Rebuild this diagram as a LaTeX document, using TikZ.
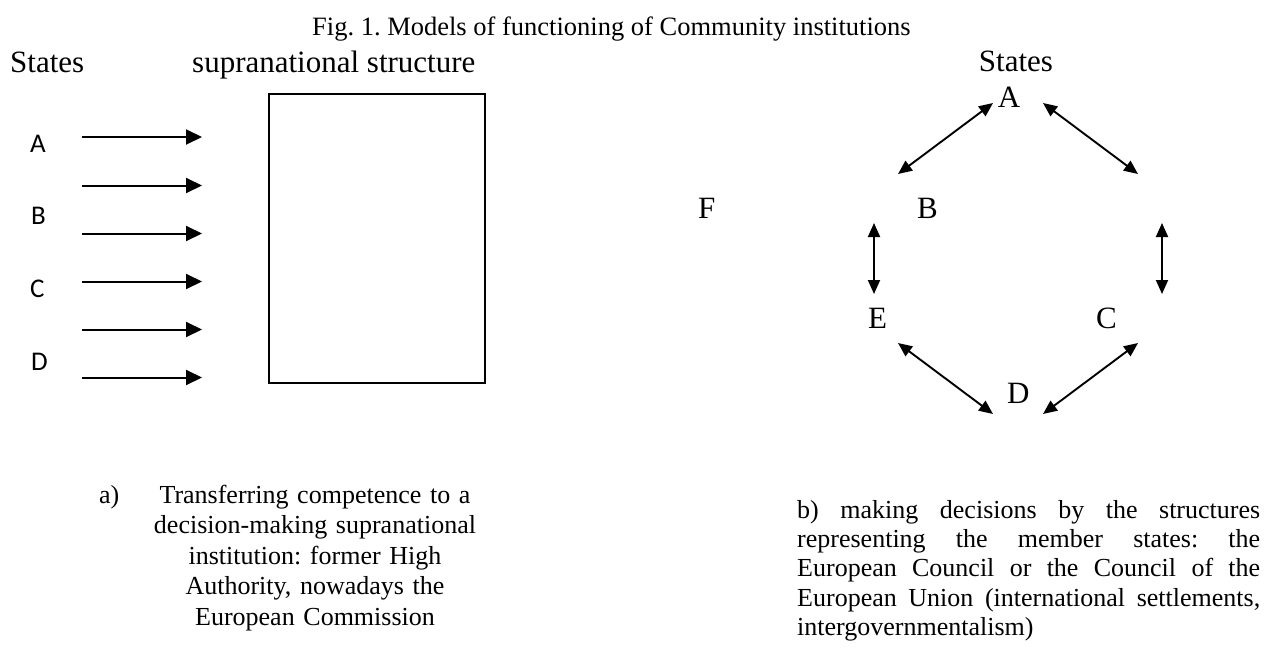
\documentclass[tikz,border=0pt]{standalone}
\usepackage{fontspec}
\setmainfont{Liberation Serif}
\newfontfamily\calfont{Carlito}
\usetikzlibrary{arrows.meta}
\frenchspacing
\begin{document}
\begin{tikzpicture}[x=1pt,y=-1pt,
  big/.style={font=\fontsize{31}{36}\selectfont, inner sep=0, anchor=base west},
  bigc/.style={font=\fontsize{31}{36}\selectfont, inner sep=0, anchor=base},
  capt/.style={font=\fontsize{26.5}{30}\selectfont, inner sep=0, anchor=base west},
  body/.style={font=\fontsize{26}{29.2}\selectfont, inner sep=0},
  sansletter/.style={font=\calfont\fontsize{27}{32}\selectfont, inner sep=0, anchor=base west},
  inarrow/.style={line width=2pt, -{Triangle[length=16pt,width=15pt]}},
  twoway/.style={line width=1.9pt, {Triangle[length=14pt,width=12pt]}-{Triangle[length=14pt,width=12pt]}},
  frame/.style={draw, line width=1.6pt, inner sep=0, anchor=north west}
]
\useasboundingbox (0,0) rectangle (1266,648);

% caption
\node[capt] (title) at (312,35) {Fig. 1. Models of functioning of Community institutions};

% ---------- left model ----------
\node[big] (statesL) at (10,72) {States};
\node[big] (supra) at (192,72) {supranational structure};
\node[frame, minimum width=216pt, minimum height=289pt] (box) at (268,93) {};

\node[sansletter] (lA) at (30,152) {A};
\node[sansletter] (lB) at (31,224) {B};
\node[sansletter] (lC) at (30,297) {C};
\node[sansletter] (lD) at (31,370) {D};

\foreach \i/\yy in {1/137,2/185.5,3/233.5,4/281.5,5/329.5,6/377.5}{
  \coordinate (s\i) at (82,\yy);
  \coordinate (t\i) at (202,\yy);
  \draw[inarrow] (s\i) -- (t\i);
}

\node[body, anchor=base west] (la) at (99,503) {a)};
\node[body, font=\fontsize{26}{30.5}\selectfont, text width=340pt, align=center, anchor=base] (capL) at (315,503)
  {Transferring competence to a\\ decision-making supranational\\ institution: former High\\ Authority, nowadays the\\ European Commission};

% ---------- right model ----------
\node[bigc] (statesR) at (1016,71) {States};
\node[bigc] (rA) at (1009,107) {A};
\node[big] (rF) at (698,218) {F};
\node[big] (rB) at (917,218) {B};
\node[big] (rE) at (868,328) {E};
\node[big] (rC) at (1096,328) {C};
\node[big] (rD) at (1007,403) {D};

\coordinate (ab1) at (898,174);  \coordinate (ab2) at (993,103);
\coordinate (ac1) at (1043,103); \coordinate (ac2) at (1138,174);
\coordinate (be1) at (874,223);  \coordinate (be2) at (874,294);
\coordinate (rc1) at (1162,223); \coordinate (rc2) at (1162,294);
\coordinate (ed1) at (898,343);  \coordinate (ed2) at (993,414);
\coordinate (dc1) at (1043,414); \coordinate (dc2) at (1138,343);

\draw[twoway] (ab1) -- (ab2);
\draw[twoway] (ac1) -- (ac2);
\draw[twoway] (be1) -- (be2);
\draw[twoway] (rc1) -- (rc2);
\draw[twoway] (ed1) -- (ed2);
\draw[twoway] (dc1) -- (dc2);

\node[body, text width=463pt, align=justify, anchor=base west] (capR) at (797,518.5)
  {\hyphenpenalty=10000 b) making decisions by the structures\linebreak
   representing the member states: the\linebreak
   European Council or the Council of the\linebreak
   European Union (international settlements,\linebreak
   intergovernmentalism)};
\end{tikzpicture}
\end{document}
